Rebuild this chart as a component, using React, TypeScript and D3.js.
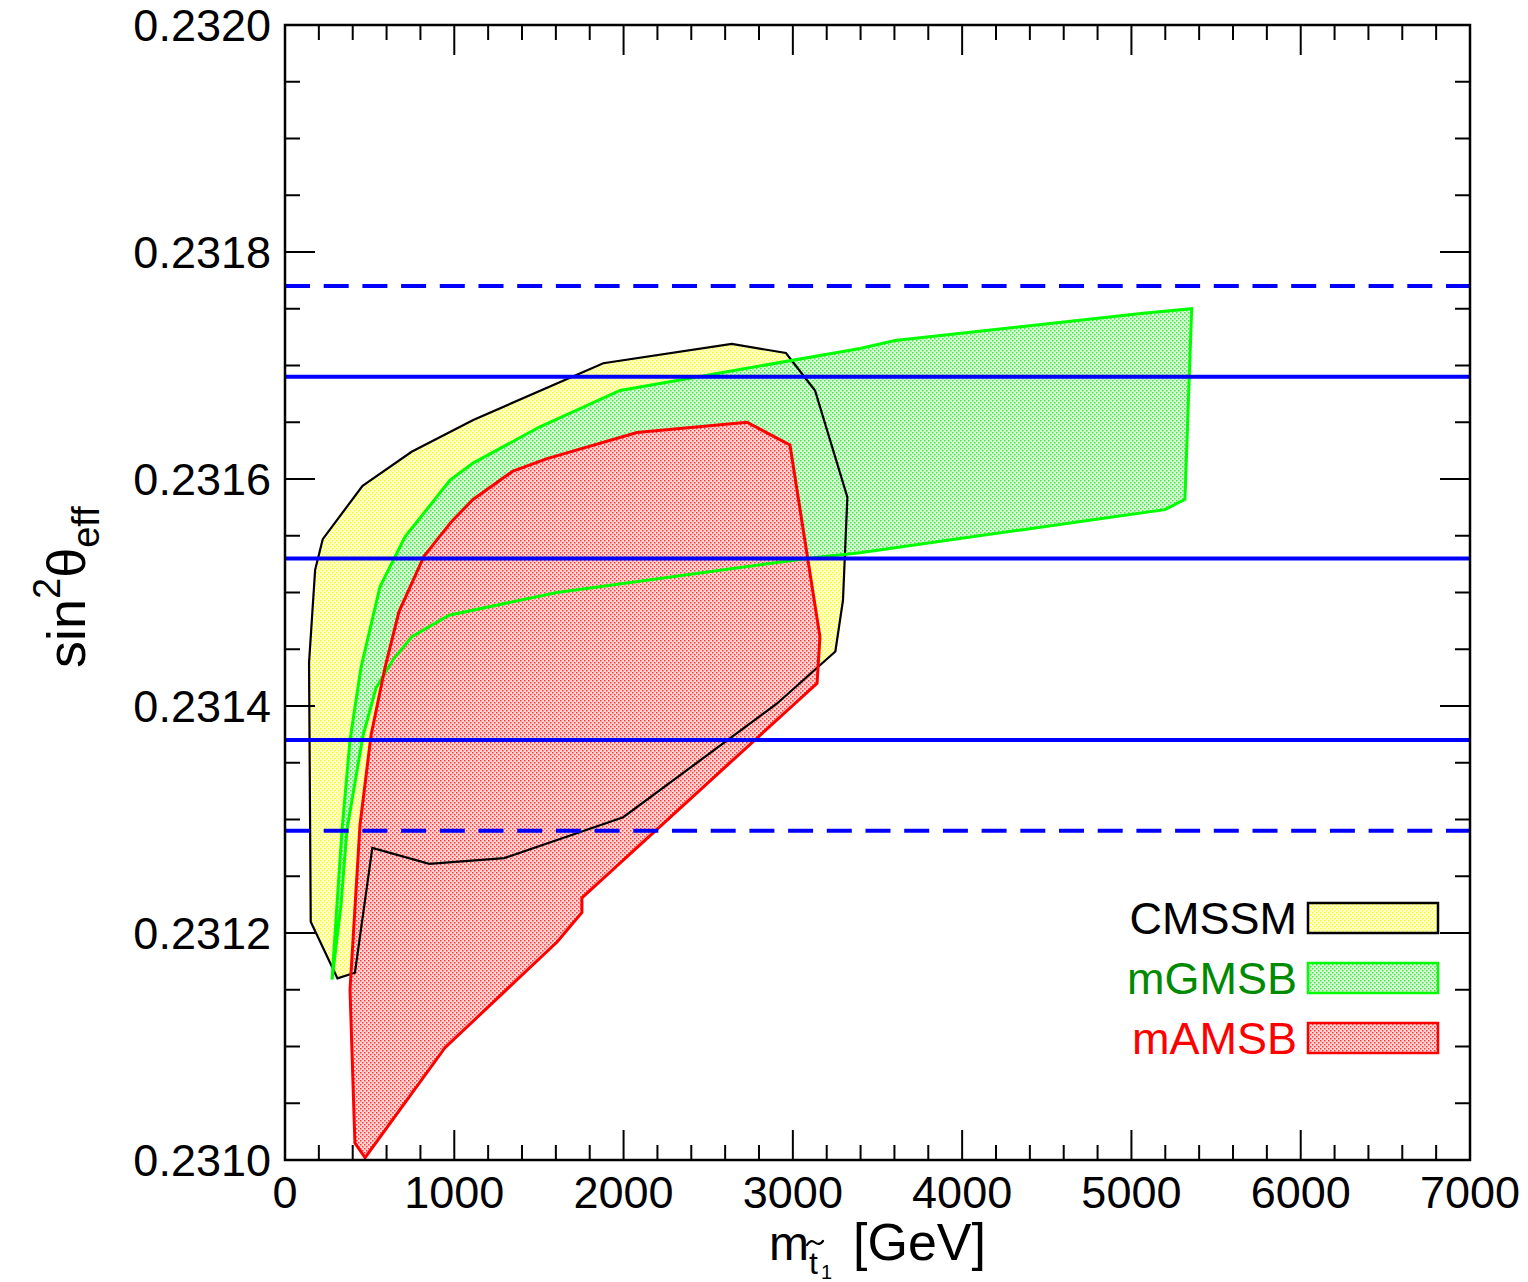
import React from "react";
import * as d3 from "d3";

// ---- data ----
const xTicks = [0, 1000, 2000, 3000, 4000, 5000, 6000, 7000];
const yTicks = [0.231, 0.2312, 0.2314, 0.2316, 0.2318, 0.232];
const yTickLabels = ["0.2310", "0.2312", "0.2314", "0.2316", "0.2318", "0.2320"];

// CMSSM region (closed contour)
const cmssm: [number, number][] = [
  [458, 0.231594], [748, 0.231624], [1112, 0.231652], [1880, 0.231702],
  [2639, 0.231719], [2959, 0.231711], [3131, 0.231678], [3322, 0.231584],
  [3296, 0.231493], [3251, 0.231448], [2905, 0.231402], [1998, 0.231302],
  [1295, 0.231266], [852, 0.231261], [516, 0.231275], [413, 0.231165],
  [310, 0.23116], [152, 0.23121], [142, 0.231438], [178, 0.23152],
  [223, 0.231547],
];

// mGMSB region (closed contour)
const mgmsb: [number, number][] = [
  [278, 0.231159], [307, 0.231225], [337, 0.231291], [384, 0.23137],
  [449, 0.231434], [561, 0.231505], [709, 0.231549], [975, 0.231599],
  [1111, 0.231614], [1506, 0.231646], [1979, 0.231678], [3397, 0.231715],
  [3603, 0.231722], [5070, 0.231746], [5356, 0.23175], [5316, 0.231582],
  [5198, 0.231573], [4814, 0.231565], [3397, 0.231535], [3083, 0.23153],
  [1607, 0.2315], [969, 0.23148], [750, 0.231461], [644, 0.231442],
  [538, 0.231416], [461, 0.231374], [366, 0.231291], [331, 0.231225],
];

// mAMSB region (closed contour)
const mamsb: [number, number][] = [
  [473, 0.231002], [413, 0.231015], [384, 0.23115], [443, 0.231295],
  [508, 0.231374], [591, 0.231434], [673, 0.231483], [821, 0.231532],
  [981, 0.231562], [1111, 0.231582], [1347, 0.231607], [1548, 0.231618],
  [2079, 0.231641], [2729, 0.23165], [2983, 0.23163], [3160, 0.231461],
  [3143, 0.23142], [1754, 0.231231], [1754, 0.231218], [1607, 0.231192],
  [945, 0.231099],
];

// measured value bands
const solidLines = [0.23137, 0.23153, 0.23169];
const dashedLines = [0.23129, 0.23177];

const legendItems = [
  { label: "CMSSM", text: "#000000", stroke: "#000000", pat: "patY" },
  { label: "mGMSB", text: "#008a00", stroke: "#00ff00", pat: "patG" },
  { label: "mAMSB", text: "#ff0000", stroke: "#ff0000", pat: "patR" },
];

const W = 1528;
const H = 1282;
const L = 285, R = 1470, T = 25, B = 1160;
const FONT = "'Liberation Sans', Arial, Helvetica, sans-serif";

export default function App() {
  const x = d3.scaleLinear().domain([0, 7000]).range([L, R]);
  const y = d3.scaleLinear().domain([0.231, 0.232]).range([B, T]);
  const line = d3
    .line<[number, number]>()
    .x((d) => x(d[0]))
    .y((d) => y(d[1]))
    .curve(d3.curveLinearClosed);

  const xMinor = d3.range(0, 7001, 200).filter((v) => v % 1000 !== 0);
  const yMinor = d3.range(0, 21).map((i) => 0.231 + i * 0.00005).filter((_, i) => i % 4 !== 0);

  const pattern = (id: string, bg: string, color: string) => (
    <pattern id={id} x={0} y={0} width={4} height={4} patternUnits="userSpaceOnUse">
      <rect width={4} height={4} fill={bg} />
      <rect x={0} y={0} width={1.5} height={1.5} fill={color} />
      <rect x={2} y={2} width={1.5} height={1.5} fill={color} />
    </pattern>
  );

  return (
    <svg
      width={W}
      height={H}
      style={{ position: "absolute", left: 0, top: 0, background: "#fff" }}
      fontFamily={FONT}
    >
      <defs>
        {pattern("patY", "#ffffd6", "#ffff20")}
        {pattern("patG", "#d8f8d8", "#44e844")}
        {pattern("patR", "#ffd6d6", "#ff3a3a")}
        <clipPath id="plotClip">
          <rect x={L} y={T} width={R - L} height={B - T} />
        </clipPath>
      </defs>
      <rect x={0} y={0} width={W} height={H} fill="#fff" />

      <g clipPath="url(#plotClip)">
        <path d={line(cmssm) || ""} fill="url(#patY)" stroke="none" />
        <path d={line(mgmsb) || ""} fill="url(#patG)" stroke="none" />
        <path d={line(mamsb) || ""} fill="url(#patR)" stroke="none" />
        <path d={line(cmssm) || ""} fill="none" stroke="#000" strokeWidth={2.2} />
        <path d={line(mgmsb) || ""} fill="none" stroke="#00ff00" strokeWidth={3} />
        <path d={line(mamsb) || ""} fill="none" stroke="#ff0000" strokeWidth={3} />

        {solidLines.map((v) => (
          <line key={"s" + v} x1={L} x2={R} y1={y(v)} y2={y(v)} stroke="#0000ff" strokeWidth={4} />
        ))}
        {dashedLines.map((v) => (
          <line
            key={"d" + v}
            x1={L}
            x2={R}
            y1={y(v)}
            y2={y(v)}
            stroke="#0000ff"
            strokeWidth={4}
            strokeDasharray="25,13.7"
          />
        ))}
      </g>

      {/* ticks */}
      <g stroke="#000" strokeWidth={2}>
        {xTicks.map((v) => (
          <g key={"xt" + v}>
            <line x1={x(v)} x2={x(v)} y1={B} y2={B - 30} />
            <line x1={x(v)} x2={x(v)} y1={T} y2={T + 30} />
          </g>
        ))}
        {xMinor.map((v) => (
          <g key={"xm" + v}>
            <line x1={x(v)} x2={x(v)} y1={B} y2={B - 15} />
            <line x1={x(v)} x2={x(v)} y1={T} y2={T + 15} />
          </g>
        ))}
        {yTicks.map((v) => (
          <g key={"yt" + v}>
            <line x1={L} x2={L + 30} y1={y(v)} y2={y(v)} />
            <line x1={R} x2={R - 30} y1={y(v)} y2={y(v)} />
          </g>
        ))}
        {yMinor.map((v) => (
          <g key={"ym" + v}>
            <line x1={L} x2={L + 15} y1={y(v)} y2={y(v)} />
            <line x1={R} x2={R - 15} y1={y(v)} y2={y(v)} />
          </g>
        ))}
      </g>
      <rect x={L} y={T} width={R - L} height={B - T} fill="none" stroke="#000" strokeWidth={2.5} />

      {/* tick labels */}
      <g fontSize={45} fill="#000">
        {xTicks.map((v) => (
          <text key={"xl" + v} x={x(v)} y={1208} textAnchor="middle">
            {String(v)}
          </text>
        ))}
        {yTicks.map((v, i) => (
          <text key={"yl" + v} x={271} y={y(v) + 16} textAnchor="end">
            {yTickLabels[i]}
          </text>
        ))}
      </g>

      {/* x axis title: m with subscript t-tilde-1 */}
      <g fill="#000">
        <text x={769} y={1260} fontSize={48}>m</text>
        <path
          d="M807,1245 q3.5,-6 8,-2.5 t8,-1.5"
          fill="none"
          stroke="#000"
          strokeWidth={2.2}
          strokeLinecap="round"
        />
        <text x={809} y={1274} fontSize={32}>t</text>
        <text x={821} y={1279} fontSize={20}>1</text>
        <text x={853} y={1260} fontSize={52}>[GeV]</text>
      </g>

      {/* y axis title */}
      <text transform="translate(85,668) rotate(-90)" fontSize={54} fill="#000">
        <tspan>sin</tspan>
        <tspan fontSize={38} dy={-25}>2</tspan>
        <tspan dy={25}>θ</tspan>
        <tspan fontSize={38} dy={14}>eff</tspan>
      </text>

      {/* legend */}
      {legendItems.map((it, i) => {
        const by = 903 + i * 60;
        return (
          <g key={it.label}>
            <text x={1297} y={by + 31} fontSize={45} fill={it.text} textAnchor="end">
              {it.label}
            </text>
            <rect x={1308} y={by} width={130} height={30} fill={`url(#${it.pat})`} stroke={it.stroke} strokeWidth={2.5} />
          </g>
        );
      })}
    </svg>
  );
}
